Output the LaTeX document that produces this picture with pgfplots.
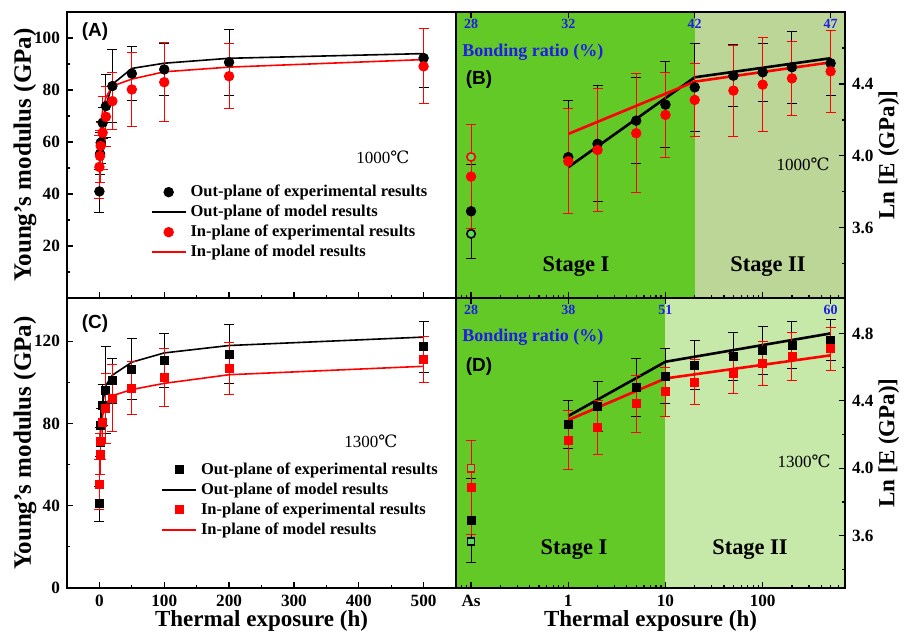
\documentclass[border=0pt]{standalone}
\usepackage{fontspec}
\setmainfont{Liberation Serif}
\newfontfamily\arialfont{Liberation Sans}
\newfontfamily\symfont{DejaVu Serif}
\usepackage{pgfplots}
\pgfplotsset{compat=1.18}

\definecolor{stageone}{RGB}{99,201,38}
\definecolor{stagetwoB}{RGB}{188,214,152}
\definecolor{stagetwoD}{RGB}{198,232,168}
\definecolor{hollowg}{RGB}{90,220,90}
\definecolor{bondblue}{RGB}{30,30,230}

\newcommand{\degC}{{\symfont ℃}}
\newcommand{\tickfont}{\fontsize{8.6}{10}\selectfont\bfseries}
\newcommand{\bondfont}{\fontsize{7}{8}\selectfont\bfseries}

\pgfplotsset{
  panel/.style={
    scale only axis, width=194.5pt, anchor=south west,
    tick align=inside, axis on top,
    /pgf/number format/assume math mode=true,
    ticklabel style={font=\tickfont},
    ylabel style={font=\fontsize{12.5}{14}\selectfont\bfseries},
    xlabel style={font=\fontsize{11.5}{13}\selectfont\bfseries},
    xlabel shift=-5pt,
    major tick length=2.8pt, minor tick length=1.6pt,
    every tick/.append style={line width=0.6pt, black},
    axis line style={line width=0.9pt},
  },
  errb/.style={
    /pgfplots/error bars/y dir=both,
    /pgfplots/error bars/y explicit,
    /pgfplots/error bars/error bar style={line width=0.5pt},
    /pgfplots/error bars/error mark options={rotate=90, mark size=2.5pt, line width=0.5pt},
  },
  blackc/.style={only marks, mark=*, mark size=2.4pt, black, mark options={fill=black}},
  redc/.style={only marks, mark=*, mark size=2.4pt, red, mark options={fill=red}},
  blacks/.style={only marks, mark=square*, mark size=2pt, black, mark options={fill=black}},
  reds/.style={only marks, mark=square*, mark size=2pt, red, mark options={fill=red}},
  leg/.style={legend style={draw=none, fill=none, anchor=north west, row sep=-1.3pt,
    font=\fontsize{8.25}{10}\selectfont\bfseries, cells={anchor=west}}},
}

\begin{document}
\begin{tikzpicture}

% (A) 1000 C, linear time
\begin{axis}[panel, leg, at={(33.5pt,167.5pt)}, height=143pt,
  xmin=-50, xmax=550, ymin=0, ymax=110,
  xtick={0,100,...,500}, xticklabels={}, minor xtick={50,150,250,350,450},
  ytick={20,40,...,100}, minor ytick={10,30,50,70,90},
  tick pos=left,
  ylabel={Young's modulus (GPa)}, ylabel shift=-8pt,
  legend style={at={(0.199,0.425)}}]
\addplot[blackc, errb] coordinates {
(0,41) +- (0,8.3)
(1,55.5) +- (0,8)
(2,59.7) +- (0,8)
(5,67.4) +- (0,6)
(10,73.8) +- (0,12)
(20,81.5) +- (0,14)
(50,86.3) +- (0,10.4)
(100,87.9) +- (0,10)
(200,90.7) +- (0,12.7)
(500,92.3) +- (0,11.4)
};
\addlegendentry{Out-plane of experimental results}
\addplot[black, line width=0.8pt] coordinates {
(1,51.3) (2,57.6) (5,67.1) (10,74) (20,82.2) (50,88.3) (100,90.3) (200,92.2) (500,94)
};
\addlegendentry{Out-plane of model results}
\addplot[redc, errb] coordinates {
(0,50.4) +- (0,12)
(1,54.6) +- (0,10)
(2,58.5) +- (0,9)
(5,63.6) +- (0,14)
(10,69.7) +- (0,11.5)
(20,75.7) +- (0,11)
(50,80.2) +- (0,14.2)
(100,83) +- (0,15.2)
(200,85.3) +- (0,12.4)
(500,89.1) +- (0,14.4)
};
\addlegendentry{In-plane of experimental results}
\addplot[red, line width=0.8pt] coordinates {
(1,61.7) (2,66) (5,72.1) (10,77.1) (20,81.5) (50,84.2) (100,87) (200,88.8) (500,91.7)
};
\addlegendentry{In-plane of model results}
\end{axis}

% (B) 1000 C, log time
\begin{axis}[panel, at={(228pt,167.5pt)}, height=143pt,
  xmode=log, xmin=0.07, xmax=703,
  xtick={0.1,1,10,100}, xticklabel=\empty,
  minor xtick={0.08,0.09,0.2,0.3,0.4,0.5,0.6,0.7,0.8,0.9,2,3,4,5,6,7,8,9,20,30,40,50,60,70,80,90,200,300,400,500,600,700},
  xtick pos=left, ytick pos=right, yticklabel pos=right,
  ymin=3.21, ymax=4.8,
  ytick={3.6,4.0,4.4}, minor ytick={3.4,3.8,4.2,4.6},
  yticklabel={\pgfmathprintnumber[fixed,fixed zerofill,precision=1]{\tick}},
  ylabel={Ln [E (GPa)]}, ylabel shift=-4.5pt,
  ylabel style={font=\fontsize{11.5}{13}\selectfont\bfseries}]
\addplot[fill=stageone, draw=none, forget plot] coordinates {(0.01,5) (20,5)} \closedcycle;
\addplot[fill=stagetwoB, draw=none, forget plot] coordinates {(20,5) (1000,5)} \closedcycle;
\addplot[blackc, errb] coordinates {
(0.1,3.692) +- (0,0.26)
(1,3.993) +- (0,0.316)
(2,4.067) +- (0,0.323)
(5,4.196) +- (0,0.24)
(10,4.285) +- (0,0.241)
(20,4.381) +- (0,0.243)
(50,4.446) +- (0,0.172)
(100,4.465) +- (0,0.16)
(200,4.493) +- (0,0.2)
(500,4.515) +- (0,0.18)
};
\addplot[black, line width=1.3pt] coordinates {(1,3.937) (20,4.437) (500,4.543)};
\addplot[redc, errb] coordinates {
(0.1,3.885) +- (0,0.29)
(1,3.97) +- (0,0.293)
(2,4.033) +- (0,0.341)
(5,4.126) +- (0,0.33)
(10,4.228) +- (0,0.238)
(20,4.311) +- (0,0.205)
(50,4.363) +- (0,0.253)
(100,4.396) +- (0,0.263)
(200,4.431) +- (0,0.206)
(500,4.47) +- (0,0.228)
};
\addplot[red, line width=1.3pt] coordinates {(1,4.122) (20,4.413) (500,4.52)};
\addplot[only marks, mark=*, mark size=2.1pt, mark options={draw=black, fill=hollowg, line width=0.8pt}] coordinates {(0.1,3.567)};
\addplot[only marks, mark=*, mark size=2.1pt, mark options={draw=red, fill=hollowg, line width=0.8pt}] coordinates {(0.1,3.994)};
\node[text=bondblue, font=\bondfont] at (axis cs:0.1,4.733) {28};
\node[text=bondblue, font=\bondfont] at (axis cs:1,4.733) {32};
\node[text=bondblue, font=\bondfont] at (axis cs:20,4.733) {42};
\node[text=bondblue, font=\bondfont] at (axis cs:500,4.733) {47};
\draw[line width=0.6pt] (axis cs:0.1,4.8) -- ++(0pt,-2.8pt);
\draw[line width=0.6pt] (axis cs:1,4.8) -- ++(0pt,-2.8pt);
\draw[line width=0.6pt] (axis cs:20,4.8) -- ++(0pt,-2.8pt);
\draw[line width=0.6pt] (axis cs:500,4.8) -- ++(0pt,-2.8pt);
\end{axis}

% (C) 1300 C, linear time
\begin{axis}[panel, leg, at={(33.5pt,22.5pt)}, height=145pt,
  xmin=-50, xmax=550, ymin=0, ymax=141,
  xtick={0,100,...,500}, minor xtick={50,150,250,350,450},
  ytick={0,40,80,120}, minor ytick={20,60,100},
  tick pos=left,
  xlabel={Thermal exposure (h)},
  ylabel={Young's modulus (GPa)}, ylabel shift=-8pt,
  legend style={at={(0.226,0.462)}}]
\addplot[blacks, errb] coordinates {
(0,41) +- (0,8.5)
(1,71) +- (0,7)
(2,79.3) +- (0,8)
(5,89) +- (0,10)
(10,96.3) +- (0,21)
(20,100.8) +- (0,11)
(50,106.5) +- (0,15)
(100,110.6) +- (0,13)
(200,113.8) +- (0,14.2)
(500,117.4) +- (0,12.4)
};
\addlegendentry{Out-plane of experimental results}
\addplot[black, line width=0.8pt] coordinates {
(1,72) (2,80) (5,90) (10,98.5) (20,103.5) (50,109.8) (100,114.3) (200,117.9) (500,122)
};
\addlegendentry{Out-plane of model results}
\addplot[reds, errb] coordinates {
(0,50.4) +- (0,12)
(1,65) +- (0,10)
(2,71.5) +- (0,9)
(5,80.5) +- (0,10)
(10,87.5) +- (0,17)
(20,92.4) +- (0,16.5)
(50,97.2) +- (0,13)
(100,102.4) +- (0,14)
(200,106.8) +- (0,12.7)
(500,111.1) +- (0,11.3)
};
\addlegendentry{In-plane of experimental results}
\addplot[red, line width=0.8pt] coordinates {
(1,70) (2,76) (5,84) (10,89.5) (20,93.5) (50,96.5) (100,99.5) (200,103.7) (500,107.8)
};
\addlegendentry{In-plane of model results}
\end{axis}

% (D) 1300 C, log time
\begin{axis}[panel, at={(228pt,22.5pt)}, height=145pt,
  xmode=log, xmin=0.07, xmax=703,
  xtick={0.1,1,10,100}, xticklabels={As,1,10,100},
  minor xtick={0.08,0.09,0.2,0.3,0.4,0.5,0.6,0.7,0.8,0.9,2,3,4,5,6,7,8,9,20,30,40,50,60,70,80,90,200,300,400,500,600,700},
  xtick pos=left, ytick pos=right, yticklabel pos=right,
  ymin=3.29, ymax=5.01,
  ytick={3.6,4.0,4.4,4.8}, minor ytick={3.4,3.8,4.2,4.6},
  yticklabel={\pgfmathprintnumber[fixed,fixed zerofill,precision=1]{\tick}},
  xlabel={Thermal exposure (h)},
  ylabel={Ln [E (GPa)]}, ylabel shift=-4.5pt,
  ylabel style={font=\fontsize{11.5}{13}\selectfont\bfseries}]
\addplot[fill=stageone, draw=none, forget plot] coordinates {(0.01,5.2) (10,5.2)} \closedcycle;
\addplot[fill=stagetwoD, draw=none, forget plot] coordinates {(10,5.2) (1000,5.2)} \closedcycle;
\addplot[blacks, errb] coordinates {
(0.1,3.691) +- (0,0.247)
(1,4.26) +- (0,0.144)
(2,4.365) +- (0,0.148)
(5,4.478) +- (0,0.171)
(10,4.547) +- (0,0.165)
(20,4.61) +- (0,0.145)
(50,4.662) +- (0,0.143)
(100,4.699) +- (0,0.14)
(200,4.729) +- (0,0.139)
(500,4.76) +- (0,0.12)
};
\addplot[black, line width=1.3pt] coordinates {(1,4.31) (10,4.632) (500,4.8)};
\addplot[reds, errb] coordinates {
(0.1,3.885) +- (0,0.278)
(1,4.167) +- (0,0.175)
(2,4.244) +- (0,0.161)
(5,4.383) +- (0,0.169)
(10,4.454) +- (0,0.146)
(20,4.511) +- (0,0.135)
(50,4.563) +- (0,0.12)
(100,4.622) +- (0,0.128)
(200,4.662) +- (0,0.141)
(500,4.709) +- (0,0.129)
};
\addplot[red, line width=1.3pt] coordinates {(1,4.286) (10,4.533) (500,4.67)};
\addplot[only marks, mark=square*, mark size=1.8pt, mark options={draw=black, fill=hollowg, line width=0.8pt}] coordinates {(0.1,3.566)};
\addplot[only marks, mark=square*, mark size=1.8pt, mark options={draw=red, fill=hollowg, line width=0.8pt}] coordinates {(0.1,4.0)};
\node[text=bondblue, font=\bondfont] at (axis cs:0.1,4.942) {28};
\node[text=bondblue, font=\bondfont] at (axis cs:1,4.942) {38};
\node[text=bondblue, font=\bondfont] at (axis cs:10,4.942) {51};
\node[text=bondblue, font=\bondfont] at (axis cs:500,4.942) {60};
\draw[line width=0.6pt] (axis cs:0.1,5.01) -- ++(0pt,-2.8pt);
\draw[line width=0.6pt] (axis cs:1,5.01) -- ++(0pt,-2.8pt);
\draw[line width=0.6pt] (axis cs:10,5.01) -- ++(0pt,-2.8pt);
\draw[line width=0.6pt] (axis cs:500,5.01) -- ++(0pt,-2.8pt);
\end{axis}

% text labels
\node[font=\arialfont\fontsize{9.5}{11}\selectfont\bfseries] at (47.5pt,300.5pt) {(A)};
\node[font=\arialfont\fontsize{9.5}{11}\selectfont\bfseries] at (239.5pt,276.5pt) {(B)};
\node[font=\arialfont\fontsize{9.5}{11}\selectfont\bfseries] at (47.5pt,154.5pt) {(C)};
\node[font=\arialfont\fontsize{9.5}{11}\selectfont\bfseries] at (239.5pt,133pt) {(D)};
\node[font=\fontsize{8.5}{10}\selectfont] at (191.5pt,238pt) {1000\degC};
\node[font=\fontsize{8.5}{10}\selectfont] at (401.5pt,234.5pt) {1000\degC};
\node[font=\fontsize{8.5}{10}\selectfont] at (185.5pt,96pt) {1300\degC};
\node[font=\fontsize{8.5}{10}\selectfont] at (402pt,86pt) {1300\degC};
\node[anchor=west, inner sep=0pt, text=bondblue, font=\fontsize{9}{10}\selectfont\bfseries] at (231pt,290.5pt) {Bonding ratio (\%)};
\node[anchor=west, inner sep=0pt, text=bondblue, font=\fontsize{9}{10}\selectfont\bfseries] at (231pt,148pt) {Bonding ratio (\%)};
\node[font=\fontsize{11.2}{13}\selectfont\bfseries] at (288pt,183pt) {Stage I};
\node[font=\fontsize{11.2}{13}\selectfont\bfseries] at (384pt,183pt) {Stage II};
\node[font=\fontsize{11.2}{13}\selectfont\bfseries] at (287pt,41.5pt) {Stage I};
\node[font=\fontsize{11.2}{13}\selectfont\bfseries] at (375pt,41.5pt) {Stage II};

\pgfresetboundingbox
\path[use as bounding box] (0,0) rectangle (454.5pt,316.5pt);
\end{tikzpicture}
\end{document}
